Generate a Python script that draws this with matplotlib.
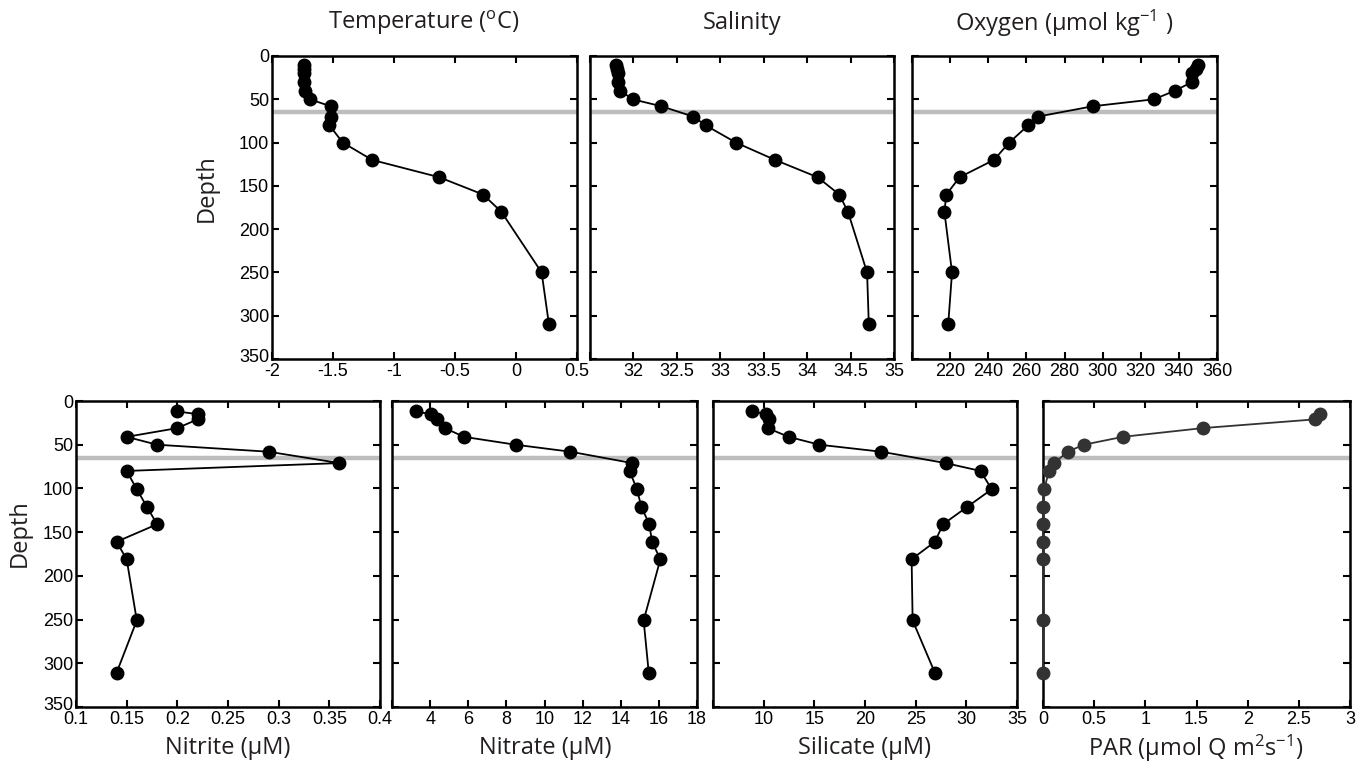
import matplotlib.pyplot as plt
import matplotlib.transforms as mtransforms
from matplotlib.ticker import FixedLocator, FixedFormatter

plt.rcParams['font.family'] = ['Liberation Sans', 'DejaVu Sans']
plt.rcParams['mathtext.fontset'] = 'custom'
plt.rcParams['mathtext.rm'] = 'Open Sans'
plt.rcParams['mathtext.it'] = 'Open Sans'

# depths of the CTD cast (top row) and the bottle cast (bottom row)
depth_ctd = [10, 15, 20, 30, 40, 50, 58, 70, 80, 100, 120, 140, 160, 180, 250, 310]
depth_btl = [12, 15, 21, 31, 41, 50, 58, 71, 80, 101, 121, 141, 161, 181, 251, 311]
depth_par = [15, 21, 31, 41, 50, 58, 71, 80, 101, 121, 141, 161, 181, 251, 311]

temperature = [-1.74, -1.74, -1.74, -1.74, -1.73, -1.69, -1.52, -1.52, -1.53, -1.42,
               -1.18, -0.63, -0.27, -0.12, 0.21, 0.27]
salinity = [31.80, 31.81, 31.82, 31.82, 31.85, 31.99, 32.32, 32.69, 32.83, 33.18,
            33.63, 34.12, 34.37, 34.47, 34.69, 34.71]
oxygen = [350, 349, 347, 347, 338, 327, 295, 266, 261, 251, 243, 225, 218, 217, 221, 219]

nitrite = [0.20, 0.22, 0.22, 0.20, 0.15, 0.18, 0.29, 0.36, 0.15, 0.16, 0.17, 0.18,
           0.14, 0.15, 0.16, 0.14]
nitrate = [3.25, 4.03, 4.35, 4.77, 5.78, 8.48, 11.36, 14.6, 14.46, 14.85, 15.08, 15.5,
           15.64, 16.08, 15.2, 15.47]
silicate = [8.85, 10.2, 10.5, 10.4, 12.46, 15.5, 21.6, 27.95, 31.4, 32.5, 30.1, 27.7,
            26.9, 24.6, 24.7, 26.9]
par = [2.71, 2.66, 1.56, 0.78, 0.40, 0.24, 0.11, 0.06, 0.01, 0.0, 0.0, 0.0, 0.0, 0.0, 0.0]

mixed_layer = 65
depth_ticks = [0, 50, 100, 150, 200, 250, 300, 350]

W, H = 1371, 776
fig = plt.figure(figsize=(W / 100, H / 100), dpi=100)


def panel(box, x, y, xlim, xticks, xlabels, color='black', show_y=False):
    l, t, r, b = box
    ax = fig.add_axes([l / W, 1 - b / H, (r - l) / W, (b - t) / H])
    ax.axhline(mixed_layer, color='#bdbdbd', lw=3.2, zorder=1)
    ax.plot(x, y, '-o', color=color, lw=1.3, ms=9, zorder=3, clip_on=False)
    ax.set_xlim(*xlim)
    ax.set_ylim(350, 0)
    ax.xaxis.set_major_locator(FixedLocator(xticks))
    ax.xaxis.set_major_formatter(FixedFormatter(xlabels))
    ax.set_yticks(depth_ticks)
    if show_y:
        ax.set_yticklabels([str(d) for d in depth_ticks])
    else:
        ax.set_yticklabels([])
    ax.tick_params(direction='in', top=True, right=True, length=5, width=1.5,
                   labelsize=13, pad=2)
    ax.tick_params(axis='x', pad=3)
    for s in ax.spines.values():
        s.set_linewidth(1.8)
    if show_y:
        # lift the bottom depth label a little so it clears the x labels
        last = ax.get_yticklabels()[-1]
        last.set_transform(last.get_transform() +
                           mtransforms.ScaledTranslation(0, 3 / 100, fig.dpi_scale_trans))
    return ax


top = (56, 359)
bot = (401, 707)

panel((272, top[0], 577, top[1]), temperature, depth_ctd, (-2, 0.5),
      [-2, -1.5, -1, -0.5, 0, 0.5], ['-2', '-1.5', '-1', '-0.5', '0', '0.5'], show_y=True)
panel((590, top[0], 894, top[1]), salinity, depth_ctd, (31.5, 35),
      [31.5, 32, 32.5, 33, 33.5, 34, 34.5, 35],
      ['', '32', '32.5', '33', '33.5', '34', '34.5', '35'])
panel((912, top[0], 1217, top[1]), oxygen, depth_ctd, (200, 360),
      [200, 220, 240, 260, 280, 300, 320, 340, 360],
      ['', '220', '240', '260', '280', '300', '320', '340', '360'])

panel((76, bot[0], 380, bot[1]), nitrite, depth_btl, (0.1, 0.4),
      [0.1, 0.15, 0.2, 0.25, 0.3, 0.35, 0.4],
      ['0.1', '0.15', '0.2', '0.25', '0.3', '0.35', '0.4'], show_y=True)
panel((392, bot[0], 697, bot[1]), nitrate, depth_btl, (2, 18),
      [2, 4, 6, 8, 10, 12, 14, 16, 18],
      ['', '4', '6', '8', '10', '12', '14', '16', '18'])
panel((713, bot[0], 1017, bot[1]), silicate, depth_btl, (5, 35),
      [5, 10, 15, 20, 25, 30, 35], ['', '10', '15', '20', '25', '30', '35'])
panel((1043, bot[0], 1350, bot[1]), par, depth_par, (0, 3),
      [0, 0.5, 1, 1.5, 2, 2.5, 3], ['0', '0.5', '1', '1.5', '2', '2.5', '3'],
      color='#333333')

lab = dict(fontfamily=['Open Sans', 'DejaVu Sans'], fontsize=17, color='#231f20',
           ha='center', va='center')
fig.text(424 / W, 1 - 23 / H, 'Temperature ($^{\\mathrm{o}}$C)', **lab)
fig.text(742 / W, 1 - 23 / H, 'Salinity', **lab)
fig.text(1064 / W, 1 - 23 / H, 'Oxygen (µmol kg$^{\\mathrm{-1}}$ )', **lab)

fig.text(228 / W, 1 - 748 / H, 'Nitrite (µM)', **lab)
fig.text(545 / W, 1 - 748 / H, 'Nitrate (µM)', **lab)
fig.text(865 / W, 1 - 748 / H, 'Silicate (µM)', **lab)
fig.text(1196 / W, 1 - 748 / H, 'PAR (µmol Q m$^{\\mathrm{2}}$s$^{\\mathrm{-1}}$)', **lab)

fig.text(207 / W, 1 - 188 / H, 'Depth', rotation=90, **lab)
fig.text(20 / W, 1 - 533 / H, 'Depth', rotation=90, **lab)

fig.savefig('out.png', dpi=100)
